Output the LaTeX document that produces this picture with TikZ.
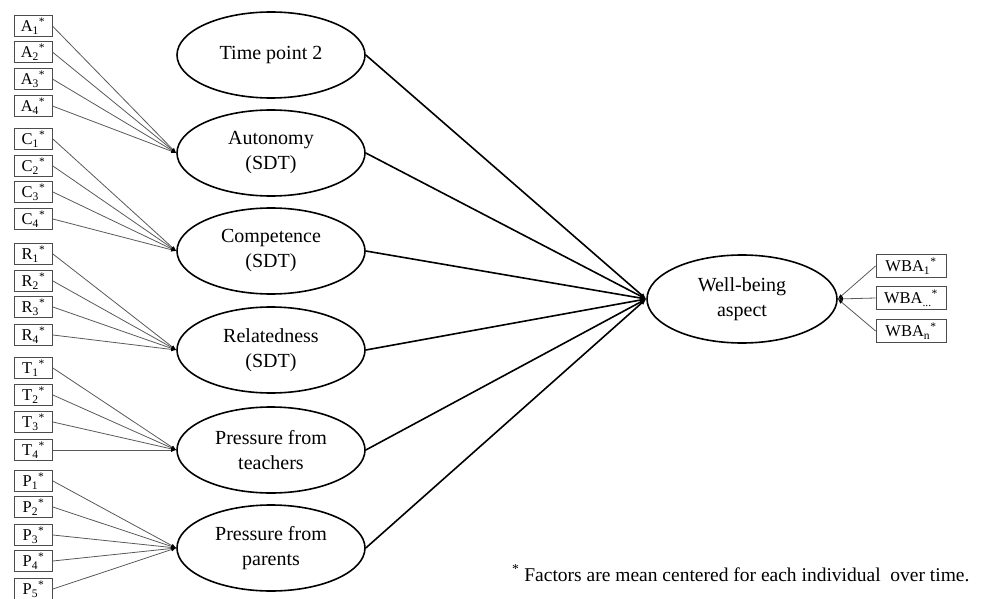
\documentclass[tikz,border=0pt]{standalone}
\usepackage{fontspec}
\setmainfont{Liberation Serif}
\usetikzlibrary{arrows.meta,shapes.geometric}
\begin{document}
\begin{tikzpicture}[x=1pt,y=-1pt,
 lat/.style={ellipse, draw, line width=1.6pt, minimum width=188pt, minimum height=86pt, align=center, font=\fontsize{20}{25}\selectfont, inner sep=0pt},
 ind/.style={draw=black!70, line width=0.8pt, minimum width=38pt, minimum height=21pt, inner sep=0pt, font=\fontsize{16.5}{16.5}\selectfont},
 wbind/.style={ind, minimum width=70pt, minimum height=23pt},
 load/.style={draw=black!65, line width=0.8pt, -{Latex[length=5pt,width=4pt,color=black]}},
 reg/.style={line width=1.6pt, -{Latex[length=6pt,width=5pt]}}
]
\useasboundingbox (0,0) rectangle (986,599);

% latent variables
\node[lat] (tp)   at (271,55)  {Time point 2};
\node[lat] (aut)  at (271,153) {Autonomy\\(SDT)};
\node[lat] (comp) at (271,251) {Competence\\(SDT)};
\node[lat] (rel)  at (271,350) {Relatedness\\(SDT)};
\node[lat] (tea)  at (271,450) {Pressure from\\teachers};
\node[lat] (par)  at (271,548) {Pressure from\\parents};
\node[lat, minimum width=190pt, minimum height=88pt] (wb) at (742,299) {Well-being\\aspect};

% indicators
\foreach \n/\y in {1/26,2/52,3/79,4/106}{
  \node[ind] (A\n) at (33,\y) {A\textsubscript{\n}\textsuperscript{*}};
  \draw[load] (A\n.east) -- (aut.west);
}
\foreach \n/\y in {1/139,2/166,3/192,4/219}{
  \node[ind] (C\n) at (33.5,\y) {C\textsubscript{\n}\textsuperscript{*}};
  \draw[load] (C\n.east) -- (comp.west);
}
\foreach \n/\y in {1/254,2/281,3/307,4/335}{
  \node[ind] (R\n) at (33.5,\y) {R\textsubscript{\n}\textsuperscript{*}};
  \draw[load] (R\n.east) -- (rel.west);
}
\foreach \n/\y in {1/368,2/395,3/422,4/450}{
  \node[ind] (T\n) at (33.5,\y) {T\textsubscript{\n}\textsuperscript{*}};
  \draw[load] (T\n.east) -- (tea.west);
}
\foreach \n/\y in {1/481,2/507,3/535,4/561,5/589}{
  \node[ind] (P\n) at (33.5,\y) {P\textsubscript{\n}\textsuperscript{*}};
  \draw[load] (P\n.east) -- (par.west);
}

% well-being indicators
\node[wbind] (W1) at (911,266) {WBA\textsubscript{1}\textsuperscript{*}};
\node[wbind] (W2) at (911,298) {WBA\textsubscript{...}\textsuperscript{*}};
\node[wbind] (W3) at (911,331) {WBA\textsubscript{n}\textsuperscript{*}};
\foreach \w in {W1,W2,W3}{
  \draw[load] (\w.west) -- (wb.east);
}

% regressions
\foreach \s in {tp,aut,comp,rel,tea,par}{
  \draw[reg] (\s.east) -- (wb.west);
}

% footnote
\node[anchor=west, inner sep=0pt, font=\fontsize{19.5}{22}\selectfont] (note) at (512,573)
  {\textsuperscript{*} Factors are mean centered for each individual\ \ over time.};
\end{tikzpicture}
\end{document}
